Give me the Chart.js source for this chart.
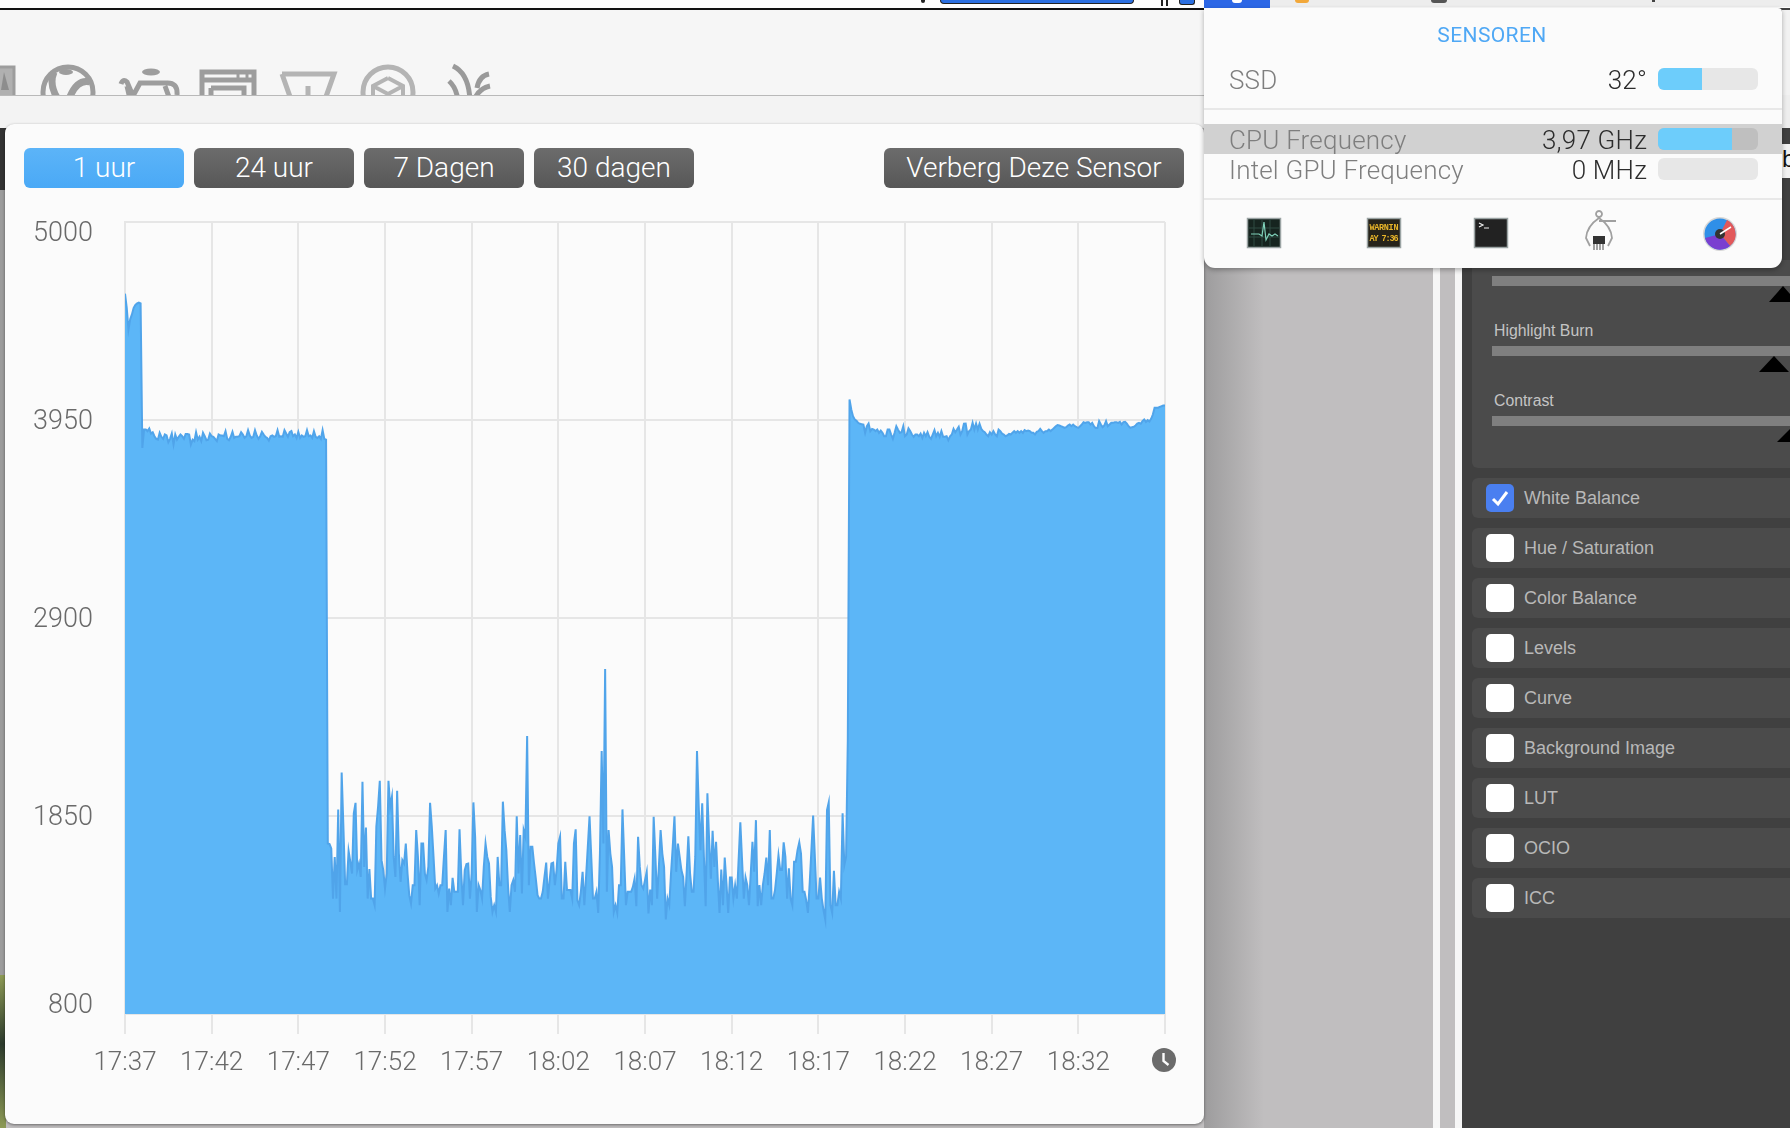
<!DOCTYPE html>
<html>
<head>
<meta charset="utf-8">
<title>CPU Frequency</title>
<script src="https://cdn.jsdelivr.net/npm/chart.js@4"></script>
<style>
html, body { margin: 0; padding: 0; }
body { position: relative; width: 1790px; height: 1128px; overflow: hidden; background: #c0bebf; font-family: "Liberation Sans", Arial, sans-serif; }
.abs { position: absolute; }
.topstrip { left: 0; top: 0; width: 1790px; height: 8px; background: #fdfdfd; }
.topline { left: 0; top: 8px; width: 1204px; height: 2px; background: #111; }
.toolbar { left: 0; top: 10px; width: 1204px; height: 85px; background: #f6f6f6; overflow: hidden; border-bottom: 1px solid #b9b9b9; }
.subbar { left: 0; top: 96px; width: 1204px; height: 32px; background: #f3f3f3; }
.edge-dark { left: 0; top: 128px; width: 6px; height: 62px; background: #333; }
.edge-gray { left: 0; top: 190px; width: 6px; height: 790px; background: #9c9c9c; }
.edge-photo { left: 0; top: 975px; width: 6px; height: 153px; background: linear-gradient(#8d9a55, #2c3a2c 45%, #8d9a55); }
.shade { left: 1204px; top: 0; width: 60px; height: 1128px; background: linear-gradient(90deg, #9d9c9d, #c0bebf); }
.panel { left: 5px; top: 124px; width: 1199px; height: 1000px; background: #fbfbfb; border-radius: 9px; box-shadow: 0 1px 3px rgba(0,0,0,.45); }
.btn { position: absolute; top: 148px; height: 40px; line-height: 39px; text-align: center; color: #fff; font-family: Roboto, "Liberation Sans", sans-serif; font-weight: 300; font-size: 28px; border-radius: 6px; background: linear-gradient(#6c6c6c, #575757); }
.btn.on { background: linear-gradient(#5cb4f8, #4aa9f6); }
canvas { position: absolute; left: 0; top: 190px; }
.clock { left: 1152px; top: 1048px; }
.side { left: 1462px; top: 0; width: 328px; height: 1128px; background: #404040; }
.card { position: absolute; left: 1472px; width: 318px; background: #4b4b4b; border-radius: 6px 0 0 6px; }
.bar { position: absolute; left: 1492px; width: 298px; height: 10px; background: #7f7f7f; }
.lbl { position: absolute; left: 1494px; color: #c4c4c4; font-size: 15.8px; line-height: 20px; }
.tri { position: absolute; width: 0; height: 0; border-style: solid; border-color: transparent transparent #000 transparent; }
.chk { position: absolute; left: 1486px; width: 28px; height: 28px; background: #fff; border-radius: 5px; }
.chk.on { background: #4a7ff0; }
.rowtxt { position: absolute; left: 1524px; color: #b8b8b8; font-size: 18px; line-height: 40px; }
.pop { left: 1204px; top: 8px; width: 578px; height: 260px; background: #fbfbfb; border-radius: 0 4px 11px 11px; box-shadow: 0 2px 5px rgba(0,0,0,.3); overflow: hidden; }
.poptxt { position: absolute; font-family: Roboto, "Liberation Sans", sans-serif; font-weight: 300; font-size: 26px; line-height: 30px; letter-spacing: .2px; white-space: nowrap; }
.name { left: 25px; color: #7e7e7e; }
.val { right: 135px; color: #2c2c2c; }
.track { position: absolute; left: 454px; width: 100px; height: 22px; background: #e7e7e7; border-radius: 6px; overflow: hidden; }
.fill { height: 22px; background: #6dcdfb; }
.rule { position: absolute; left: 0; width: 578px; height: 2px; background: #e8e8e8; }
</style>
</head>
<body>
<div class="abs toolbar">
  <svg width="520" height="85" fill="none" stroke="#9d9d9d" stroke-width="5">
    <rect x="-2" y="57" width="16" height="30" fill="#b0b0b0" stroke="#9d9d9d" stroke-width="3"/>
    <path d="M4 62 l5 18 h-8z" fill="#8d8d8d" stroke="none"/>
    <circle cx="68" cy="82" r="25"/>
    <path d="M54 62 q-6 14 6 30 M68 92 q8 -24 22 -20" stroke-width="7"/>
    <ellipse cx="66" cy="62" rx="7" ry="3" fill="#9d9d9d" stroke="none"/>
    <path d="M121 74 q2 -6 6 -2 l6 14 l7 -13 h26 q12 -1 11 12 M165 76 l8 22 M127 76 l5 22"/>
    <ellipse cx="151" cy="62" rx="9" ry="3.5" fill="#9d9d9d" stroke="none"/>
    <rect x="202" y="62" width="52" height="40"/>
    <path d="M202 70 h52 M211 78 h33 v20 M211 78 v20"/>
    <path d="M238 62 v7 M247 62 v7" stroke-width="3"/>
    <path d="M282 64 h52 l-12 34 M282 64 l12 34" stroke="#b4b4b4"/>
    <path d="M308 76 v14" stroke="#b4b4b4"/>
    <circle cx="388" cy="82" r="25" stroke="#b4b4b4"/>
    <path d="M388 68 l15 8 v18 M388 68 l-15 8 v18 M373 76 l15 8 l15 -8 M388 84 v14" stroke="#b4b4b4" stroke-width="4"/>
    <path d="M453 56 q17 8 17 38 M449 71 q9 8 9 24 M489 64 q-10 2 -12 14 M490 76 q-10 2 -15 12" stroke="#9a9a9a"/>
  </svg>
</div>
<div class="abs subbar"></div>
<div class="abs edge-dark"></div>
<div class="abs edge-gray"></div>
<div class="abs edge-photo"></div>
<div class="abs shade"></div>

<div class="abs" style="left:1433px;top:0;width:7px;height:1128px;background:#f6f6f6"></div>
<div class="abs" style="left:1455px;top:0;width:7px;height:1128px;background:#f6f6f6"></div>
<div class="abs side"></div>
<div class="abs" style="left:1782px;top:95px;width:8px;height:33px;background:#eeeeee"></div>
<div class="abs" style="left:1782px;top:10px;width:8px;height:85px;background:#f2f2f2"></div>
<div class="abs" style="left:1782px;top:144px;width:8px;height:34px;background:#f2f2f2;color:#111;font-size:24px;line-height:30px;overflow:hidden">b</div>

<div class="abs topstrip"></div>
<div class="abs" style="left:940px;top:0;width:194px;height:4px;background:#2b6fe0;border:1px solid #222;border-top:0;box-sizing:border-box;border-radius:0 0 4px 4px"></div>
<div class="abs" style="left:921px;top:0;width:4px;height:3px;background:#222;border-radius:0 0 2px 2px"></div>
<div class="abs" style="left:1161px;top:0;width:2px;height:6px;background:#222"></div>
<div class="abs" style="left:1166px;top:0;width:2px;height:6px;background:#222"></div>
<div class="abs" style="left:1179px;top:0;width:16px;height:5px;background:#2b6fe0;border:1px solid #222;border-top:0;box-sizing:border-box;border-radius:0 0 3px 3px"></div>
<div class="abs topline"></div>
<div class="abs" style="left:1270px;top:0;width:520px;height:7px;background:#ededed"></div>
<div class="abs" style="left:1204px;top:0;width:66px;height:8px;background:#2c67e6"></div>
<div class="abs" style="left:1232px;top:0;width:10px;height:3px;background:#fff;border-radius:0 0 4px 4px"></div>
<div class="abs" style="left:1295px;top:0;width:14px;height:3px;background:#f2a83a;border-radius:0 0 7px 7px"></div>
<div class="abs" style="left:1431px;top:0;width:16px;height:3px;background:#555;border-radius:0 0 8px 8px"></div>
<div class="abs" style="left:1652px;top:0;width:3px;height:2px;background:#444"></div>

<div class="card" style="top:260px;height:208px"></div>
<div class="bar" style="top:276px"></div>
<div class="lbl" style="top:321px">Highlight Burn</div>
<div class="bar" style="top:346px"></div>
<div class="lbl" style="top:391px">Contrast</div>
<div class="bar" style="top:416px"></div>
<div class="tri" style="left:1769px;top:286px;border-width:0 14px 16px 14px"></div>
<div class="tri" style="left:1759px;top:356px;border-width:0 15px 16px 15px"></div>
<div class="tri" style="left:1777px;top:427px;border-width:0 15px 15px 15px"></div>
<div id="rows"></div>

<div class="abs panel"></div>
<div class="btn on" style="left:24px;width:160px">1 uur</div>
<div class="btn" style="left:194px;width:160px">24 uur</div>
<div class="btn" style="left:364px;width:160px">7 Dagen</div>
<div class="btn" style="left:534px;width:160px">30 dagen</div>
<div class="btn" style="left:884px;width:300px">Verberg Deze Sensor</div>

<canvas id="freqChart" width="1204" height="930"></canvas>

<svg class="abs clock" width="24" height="24">
  <circle cx="12" cy="12" r="12" fill="#6b6b6b"/>
  <path d="M11.5 5 v8 l5 4" fill="none" stroke="#fbfbfb" stroke-width="2.4"/>
</svg>

<div class="abs pop">
  <div class="poptxt" style="left:0;width:576px;text-align:center;top:12px;font-weight:400;font-size:21px;letter-spacing:.4px;color:#4fa8f5">SENSOREN</div>
  <div class="poptxt name" style="top:57px">SSD</div>
  <div class="poptxt val" style="top:57px">32°</div>
  <div class="track" style="top:60px"><div class="fill" style="width:44px"></div></div>
  <div class="rule" style="top:100px"></div>
  <div style="position:absolute;left:0;top:116px;width:578px;height:30px;background:#d1d1d1"></div>
  <div class="poptxt name" style="top:117px">CPU Frequency</div>
  <div class="poptxt val" style="top:117px">3,97 GHz</div>
  <div class="track" style="top:120px;background:#bfbfbf"><div class="fill" style="width:74px"></div></div>
  <div class="poptxt name" style="top:147px">Intel GPU Frequency</div>
  <div class="poptxt val" style="top:147px">0 MHz</div>
  <div class="track" style="top:150px"></div>
  <div class="rule" style="top:190px"></div>
  <svg style="position:absolute;left:0;top:192px" width="578" height="68">
    <rect x="43.5" y="18.5" width="33" height="29" fill="#16241f" stroke="#9aa3a3" stroke-width="1.5"/>
    <path d="M50 19 v28 M58 19 v28 M66 19 v28 M44 28 h32 M44 37 h32" stroke="#2e4a42" stroke-width="1"/>
    <path d="M47 34 h8 l3 2 l2 -14 l2 18 l3 -6 l3 2 l3 -2 l3 2" fill="none" stroke="#7fd0b8" stroke-width="1.2"/>
    <rect x="163.5" y="18.5" width="33" height="29" fill="#26231a" stroke="#9aa3a3" stroke-width="1.5"/>
    <text x="180" y="30" text-anchor="middle" font-size="8.5" font-weight="bold" font-family="Liberation Mono" fill="#e8b52a" textLength="29">WARNIN</text>
    <text x="180" y="41" text-anchor="middle" font-size="8.5" font-weight="bold" font-family="Liberation Mono" fill="#e8b52a" textLength="29">AY 7:36</text>
    <rect x="270.5" y="18.5" width="33" height="29" fill="#222" stroke="#9aa3a3" stroke-width="1.5"/>
    <path d="M275 23 l4 2 l-4 2 M280 28 h5" fill="none" stroke="#eee" stroke-width="1.2"/>
    <path d="M395 17 a3 3 0 1 1 .01 0 M395 18 q-12 8 -13 20 q2 4 4 8 M395 18 q12 8 13 20 q-2 4 -4 8 M395 21 h17" fill="none" stroke="#a0a0a0" stroke-width="1.8"/>
    <rect x="389" y="36" width="12" height="8" fill="#333"/>
    <path d="M390 44 v6 M393 44 v6 M396 44 v6 M399 44 v6" stroke="#666" stroke-width="1.2"/>
    <circle cx="516" cy="34" r="17" fill="#d7d7d7"/>
    <circle cx="516" cy="34" r="15.5" fill="#2f8fe8"/>
    <path d="M516 34 L531 30 A15.5 15.5 0 0 0 523 20z M516 34 L531 30 A15.5 15.5 0 0 1 526 46z" fill="#e2585a"/>
    <path d="M516 34 L526 46 A15.5 15.5 0 0 1 501 38z" fill="#7a3fd0"/>
    <circle cx="516" cy="34" r="5" fill="#333"/>
    <path d="M516 34 L527 27" stroke="#fff" stroke-width="1.5"/>
  </svg>
</div>

<script>
// axis labels
const timeLabels = ['17:37', '17:42', '17:47', '17:52', '17:57', '18:02', '18:07', '18:12', '18:17', '18:22', '18:27', '18:32', ''];
const sensorRows = ['White Balance', 'Hue / Saturation', 'Color Balance', 'Levels', 'Curve', 'Background Image', 'LUT', 'OCIO', 'ICC'];

// one sample every 6 seconds (MHz)
const sampleMinutes = 0.1;
const firstLoad = [
  4620, 4545, 4430, 4484, 4510, 4545, 4560, 4568, 4572, 4568, 3802, 3899, 3899, 3891, 3905, 3878, 3885, 3864, 3850, 3846,
  3882, 3861, 3850, 3873, 3868, 3832, 3850, 3878, 3820, 3873, 3846, 3861, 3873, 3864, 3850, 3876, 3876, 3873, 3820, 3846,
  3838, 3885, 3846, 3861, 3838, 3882, 3864, 3843, 3846, 3878, 3864, 3861, 3850, 3838, 3873, 3868, 3868, 3864, 3891, 3850,
  3843, 3861, 3887, 3855, 3861, 3861, 3864, 3885, 3873, 3855, 3864, 3896, 3868, 3855, 3861, 3896, 3868, 3850, 3864, 3887,
  3873, 3861, 3855, 3841, 3864, 3868, 3861, 3864, 3896, 3861, 3864, 3861, 3896, 3878, 3861, 3885, 3891, 3864, 3873, 3855,
  3887, 3855, 3868, 3861, 3864, 3896, 3864, 3868, 3855, 3891, 3861, 3855, 3864, 3850, 3896, 3850, 3846
];
const idlePeriod = [
  1704, 1701, 1678, 1412, 1633, 1412, 1885, 1341, 2080, 1793, 1488, 1488, 1665, 1607, 1545, 1864, 1920, 1563, 1598, 1527,
  2032, 1580, 1789, 1412, 1568, 1412, 1412, 1377, 1793, 1899, 2037, 1616, 1563, 1465, 1545, 2037, 1899, 1952, 1633, 1527,
  1984, 1651, 1501, 1616, 1598, 1704, 1545, 1430, 1386, 1483, 1483, 1775, 1633, 1377, 1704, 1704, 1545, 1510, 1580, 1920,
  1793, 1633, 1465, 1483, 1439, 1483, 1483, 1633, 1775, 1341, 1465, 1377, 1522, 1448, 1448, 1448, 1779, 1545, 1377, 1563,
  1595, 1598, 1412, 1545, 1922, 1740, 1341, 1483, 1457, 1412, 1580, 1704, 1633, 1598, 1421, 1341, 1377, 1341, 1633, 1483,
  1483, 1926, 1775, 1669, 1474, 1341, 1483, 1510, 1448, 1849, 1545, 1749, 1439, 1775, 1740, 2274, 1483, 1687, 1687, 1598,
  1518, 1430, 1412, 1412, 1448, 1527, 1603, 1412, 1510, 1598, 1602, 1483, 1563, 1704, 1740, 1412, 1412, 1607, 1457, 1457,
  1457, 1412, 1704, 1779, 1403, 1377, 1448, 1554, 1377, 1527, 1687, 1849, 1633, 1412, 1412, 1448, 1336, 1651, 2195, 1704,
  2630, 1448, 1775, 1651, 1580, 1341, 1377, 1336, 1483, 1483, 1885, 1633, 1377, 1448, 1448, 1448, 1474, 1518, 1372, 1740,
  1580, 1483, 1465, 1510, 1554, 1333, 1460, 1377, 1846, 1633, 1412, 1580, 1775, 1651, 1580, 1301, 1412, 1377, 1545, 1687,
  1849, 1554, 1704, 1633, 1563, 1527, 1372, 1545, 1743, 1545, 1448, 1448, 1633, 2195, 1899, 1669, 1917, 1633, 1372, 1970,
  1722, 1518, 1772, 1580, 1713, 1510, 1336, 1566, 1377, 1630, 1492, 1336, 1524, 1524, 1412, 1483, 1412, 1616, 1816, 1616,
  1412, 1524, 1483, 1377, 1545, 1713, 1554, 1828, 1372, 1483, 1377, 1483, 1545, 1630, 1483, 1775, 1412, 1412, 1457, 1545,
  1642, 1563, 1563, 1710, 1633, 1412, 1572, 1412, 1377, 1607, 1607, 1669, 1710, 1651, 1448, 1448, 1403, 1336, 1492, 1669,
  1853, 1633, 1412, 1412, 1524, 1412, 1350, 1301, 1881, 1922, 1377, 1336, 1559, 1377, 1377, 1448, 1412, 1864, 1589, 1633,
  2250
];
const secondLoad = [
  4059, 4006, 3970, 3953, 3946, 3935, 3930, 3928, 3926, 3882, 3917, 3931, 3891, 3903, 3899, 3891, 3899, 3882, 3894, 3882,
  3864, 3864, 3899, 3899, 3873, 3850, 3882, 3917, 3899, 3882, 3885, 3917, 3864, 3873, 3905, 3891, 3873, 3861, 3873, 3873,
  3864, 3878, 3855, 3882, 3864, 3885, 3861, 3850, 3873, 3896, 3864, 3882, 3861, 3891, 3861, 3861, 3864, 3843, 3864, 3873,
  3903, 3885, 3899, 3914, 3873, 3891, 3930, 3931, 3873, 3891, 3899, 3935, 3899, 3931, 3899, 3930, 3903, 3891, 3885, 3873,
  3864, 3885, 3873, 3891, 3873, 3864, 3899, 3891, 3878, 3873, 3864, 3868, 3876, 3873, 3882, 3891, 3882, 3891, 3882, 3891,
  3882, 3896, 3891, 3894, 3891, 3882, 3882, 3873, 3887, 3891, 3903, 3891, 3882, 3891, 3891, 3899, 3891, 3899, 3908, 3917,
  3923, 3921, 3917, 3914, 3908, 3912, 3921, 3926, 3917, 3926, 3917, 3912, 3908, 3917, 3926, 3938, 3935, 3938, 3938, 3926,
  3935, 3917, 3907, 3907, 3944, 3926, 3912, 3921, 3944, 3917, 3926, 3935, 3935, 3938, 3938, 3935, 3940, 3926, 3938, 3940,
  3931, 3917, 3908, 3912, 3914, 3921, 3931, 3935, 3930, 3944, 3953, 3940, 3949, 3942, 3956, 3979, 4015, 4015, 4015, 4020,
  4023, 4027, 4027
];

const freqMhz = [...firstLoad, ...idlePeriod, ...secondLoad];
const freqPoints = freqMhz.map((v, i) => ({ x: i * sampleMinutes, y: v }));

const gridColor = '#e6e6e6';
const labelColor = '#6a6a6a';
const yLabelFont = '300 27px Roboto, "Liberation Sans", sans-serif';

// side panel rows
const rowsEl = document.getElementById('rows');
sensorRows.forEach((name, i) => {
    const top = 478 + i * 50;
    const card = document.createElement('div');
    card.className = 'card';
    card.style.top = top + 'px';
    card.style.height = '40px';
    rowsEl.appendChild(card);

    const box = document.createElement('div');
    box.className = i === 0 ? 'chk on' : 'chk';
    box.style.top = (top + 6) + 'px';
    if (i === 0) {
        box.innerHTML = '<svg width="28" height="28"><path d="M7 15 l5 5 l9 -12" fill="none" stroke="#fff" stroke-width="3"/></svg>';
    }
    rowsEl.appendChild(box);

    const txt = document.createElement('div');
    txt.className = 'rowtxt';
    txt.style.top = top + 'px';
    txt.textContent = name;
    rowsEl.appendChild(txt);
});

// y labels sit on their grid line, except the two outer ones which are pulled inward
const yLabelsPlugin = {
    id: 'yLabels',
    afterDraw(chart) {
        const scale = chart.scales.y;
        const ctx = chart.ctx;
        ctx.save();
        ctx.font = yLabelFont;
        ctx.fillStyle = labelColor;
        ctx.textAlign = 'right';
        ctx.textBaseline = 'middle';
        scale.ticks.forEach(t => {
            let y = scale.getPixelForValue(t.value) + 2;
            if (t.value === scale.max) y += 10;
            if (t.value === scale.min) y -= 10;
            ctx.fillText(String(t.value), 93, y);
        });
        ctx.restore();
    }
};

new Chart(document.getElementById('freqChart').getContext('2d'), {
    type: 'line',
    data: {
        datasets: [{
            label: 'CPU Frequency',
            data: freqPoints,
            borderColor: '#50a4ea',
            backgroundColor: '#5cb6f7',
            borderWidth: 2,
            fill: 'origin',
            pointRadius: 0,
            tension: 0
        }]
    },
    options: {
        responsive: false,
        animation: false,
        layout: { padding: { left: 125, top: 32, right: 39, bottom: 26 } },
        plugins: { legend: { display: false }, tooltip: { enabled: false } },
        scales: {
            x: {
                type: 'linear',
                min: 0,
                max: 60,
                afterFit(scale) { scale.height = 80; },
                border: { color: gridColor, width: 2 },
                grid: { color: gridColor, lineWidth: 2, tickLength: 20, tickColor: gridColor },
                ticks: {
                    stepSize: 5,
                    maxRotation: 0,
                    autoSkip: false,
                    padding: 14,
                    color: labelColor,
                    font: { family: 'Roboto, "Liberation Sans", sans-serif', size: 26, weight: '300' },
                    callback: value => timeLabels[value / 5]
                }
            },
            y: {
                min: 800,
                max: 5000,
                afterFit(scale) { scale.width = 0; },
                border: { color: gridColor, width: 2 },
                grid: { color: gridColor, lineWidth: 2, drawTicks: false },
                ticks: { stepSize: 1050, display: false }
            }
        }
    },
    plugins: [yLabelsPlugin]
});
</script>
</body>
</html>
